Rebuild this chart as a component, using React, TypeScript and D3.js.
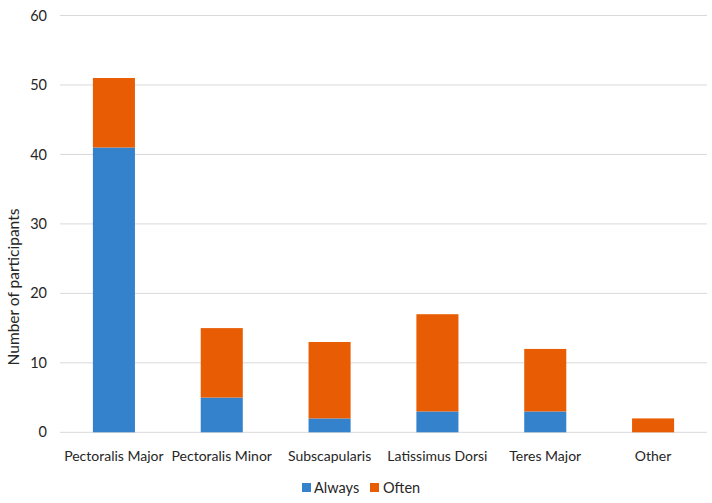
import * as d3 from "d3";

const categories = ["Pectoralis Major", "Pectoralis Minor", "Subscapularis", "Latissimus Dorsi", "Teres Major", "Other"];
const always = [41, 5, 2, 3, 3, 0];
const often = [10, 10, 11, 14, 9, 2];
const seriesNames = ["Always", "Often"];
const yTicks = [0, 10, 20, 30, 40, 50, 60];

const colors = ["#3582CC", "#E85D04"];
const font = "Lato, 'Open Sans', sans-serif";

export default function App() {
  const width = 712;
  const height = 503;
  const left = 60;
  const right = 707;
  const top = 15.5;
  const bottom = 432.3;

  const x = d3.scaleBand<string>().domain(categories).range([left, right]).paddingInner(0.61).paddingOuter(0.305);
  const y = d3.scaleLinear().domain([0, 60]).range([bottom, top]);

  const rows = categories.map((c, i) => ({ cat: c, Always: always[i], Often: often[i] }));
  const stacked = d3.stack<any>().keys(seriesNames)(rows);

  return (
    <svg width={width} height={height} style={{ position: "absolute", left: 0, top: 0, background: "#fff" }} fontFamily={font}>
      {yTicks.map((t) => (
        <g key={t}>
          <line x1={left} x2={right} y1={y(t)} y2={y(t)} stroke="#d9d9d9" strokeWidth={1} />
          <text x={47} y={y(t)} dy="0.35em" textAnchor="end" fontSize={14.5} fill="#262626">
            {t}
          </text>
        </g>
      ))}
      {stacked.map((s, si) => (
        <g key={s.key} fill={colors[si]}>
          {s.map((d, i) =>
            d[1] - d[0] > 0 ? (
              <rect
                key={i}
                x={x(categories[i])}
                width={x.bandwidth()}
                y={y(d[1])}
                height={y(d[0]) - y(d[1])}
              />
            ) : null
          )}
        </g>
      ))}
      {categories.map((c) => (
        <text key={c} x={(x(c) as number) + x.bandwidth() / 2} y={461} textAnchor="middle" fontSize={14} fill="#262626">
          {c}
        </text>
      ))}
      <text
        transform={`translate(19, 287) rotate(-90)`}
        textAnchor="middle"
        fontSize={15.5}
        fill="#262626"
      >
        Number of participants
      </text>
      <g>
        <rect x={302} y={483} width={9} height={9} fill={colors[0]} />
        <text x={314} y={493} fontSize={14.5} fill="#262626">{seriesNames[0]}</text>
        <rect x={370} y={483} width={9} height={9} fill={colors[1]} />
        <text x={383} y={493} fontSize={14.5} fill="#262626">{seriesNames[1]}</text>
      </g>
    </svg>
  );
}
